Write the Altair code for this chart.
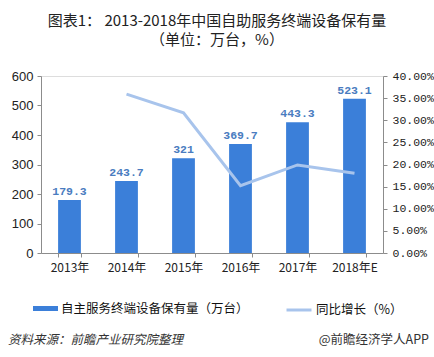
import altair as alt
import pandas as pd

years = ["2013年", "2014年", "2015年", "2016年", "2017年", "2018年E"]
values = [179.3, 243.7, 321, 369.7, 443.3, 523.1]
value_labels = ["179.3", "243.7", "321", "369.7", "443.3", "523.1"]
growth = [None, 0.359, 0.317, 0.152, 0.199, 0.180]
bar_name = "自主服务终端设备保有量（万台）"
line_name = "同比增长（%）"
title_lines = ["图表1： 2013-2018年中国自助服务终端设备保有量", "（单位：万台，%）"]
source_left = "资料来源：前瞻产业研究院整理"
source_right = "@前瞻经济学人APP"
left_ticks = [0, 100, 200, 300, 400, 500, 600]
right_ticks = [0, 0.05, 0.1, 0.15, 0.2, 0.25, 0.3, 0.35, 0.4]

BAR = "#3B7FD9"
LINE = "#A8C4EC"
LABEL = "#4A7CC0"
AXIS = "#8C8C8C"
CJK = "Noto Sans CJK SC"

df = pd.DataFrame({
    "year": years,
    "value": values,
    "label": value_labels,
    "growth": growth,
    "s1": [bar_name] * len(years),
    "s2": [line_name] * len(years),
})

x = alt.X("year:N", sort=years, title=None,
          scale=alt.Scale(paddingInner=0.6, paddingOuter=0.3),
          axis=alt.Axis(labelAngle=0, tickBand="extent", labelFont=CJK, labelFontSize=12,
                        labelColor="#222", domainColor=AXIS, tickColor=AXIS, tickSize=4,
                        labelPadding=5, grid=False))

left_axis = alt.Axis(values=left_ticks, labelFont="Liberation Sans",
                     labelFontSize=13, labelColor="#222", domainColor=AXIS, tickColor=AXIS,
                     tickSize=4, labelPadding=4, grid=False, labelOverlap=False,
                     labelFlush=False)
y_left = alt.Y("value:Q", title=None, scale=alt.Scale(domain=[0, 600], nice=False), axis=left_axis)

bars = alt.Chart(df).mark_bar(color=BAR).encode(
    x=x,
    y=y_left,
    color=alt.Color("s1:N", scale=alt.Scale(domain=[bar_name], range=[BAR]),
                    legend=alt.Legend(orient="none", legendX=-8, legendY=220, title=None,
                                      symbolType="M-1,-0.2H1V0.2H-1Z", symbolSize=625,
                                      symbolStrokeWidth=0, labelFont=CJK, labelFontSize=12.5,
                                      labelColor="#111", labelOffset=3, labelLimit=400)),
)

texts = alt.Chart(df).mark_text(baseline="bottom", dy=-3, font="Liberation Mono",
                                fontSize=11.5, fontWeight="bold", color=LABEL).encode(
    x=x,
    y=y_left,
    text="label:N",
)

notes = alt.Chart(pd.DataFrame({"t": [source_left]})).mark_text(
    font=CJK, fontSize=12.5, fontStyle="italic", align="left", baseline="middle", color="#333"
).encode(x=alt.value(-33), y=alt.value(264), text="t:N")

notes2 = alt.Chart(pd.DataFrame({"t": [source_right]})).mark_text(
    font=CJK, fontSize=12.5, align="right", baseline="middle", color="#333"
).encode(x=alt.value(388), y=alt.value(264), text="t:N")

line = alt.Chart(df).mark_line(strokeWidth=3).encode(
    x=x,
    y=alt.Y("growth:Q", title=None,
            scale=alt.Scale(domain=[0, 0.4], nice=False),
            axis=alt.Axis(orient="right", values=right_ticks,
                          format=".2%", labelFont="Liberation Mono", labelFontSize=11.5,
                          labelColor="#222", domainColor=AXIS, tickColor=AXIS, tickSize=4,
                          labelPadding=5, grid=False, labelOverlap=False, labelFlush=False)),
    stroke=alt.Stroke("s2:N", scale=alt.Scale(domain=[line_name], range=[LINE]),
                      legend=alt.Legend(orient="none", legendX=244, legendY=220, title=None,
                                        symbolType="stroke", symbolSize=625, symbolStrokeWidth=3,
                                        labelFont=CJK, labelFontSize=12.5, labelColor="#111",
                                        labelOffset=3, labelLimit=300)),
)

chart = alt.layer(alt.layer(bars, texts, notes, notes2), line).resolve_scale(
    y="independent", color="independent"
).properties(
    width=342, height=177,
    padding={"left": 41, "top": 76, "right": 51, "bottom": 104},
    autosize=alt.AutoSizeParams(type="none"),
    title=alt.TitleParams(text=title_lines, font=CJK, fontSize=15, fontWeight="normal",
                          color="#222", lineHeight=19, anchor="middle", dx=5, offset=22),
).configure_view(stroke=None).configure(background="white")

chart.save("out.html", embed_options={"renderer": "svg", "actions": False})
